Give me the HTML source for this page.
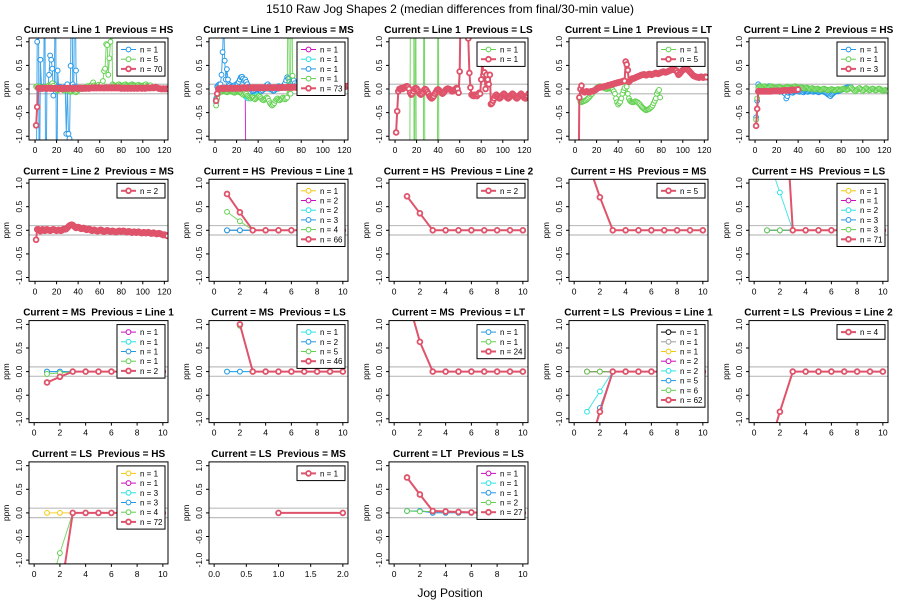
<!DOCTYPE html>
<html><head><meta charset="utf-8">
<style>
html,body{margin:0;padding:0;background:#fff;width:900px;height:600px;overflow:hidden;}
svg{display:block;font-family:"Liberation Sans",Arial,sans-serif;}
text{white-space:pre;}
</style></head>
<body>
<svg id="chart" width="900" height="600" viewBox="0 0 900 600">
<text x="450" y="13" text-anchor="middle" font-size="12" fill="#000">1510 Raw Jog Shapes 2 (median differences from final/30-min value)</text>
<text x="450" y="597" text-anchor="middle" font-size="12" fill="#000">Jog Position</text>
</svg>
<script>
// ---- colours ----
const RED="#DF536B",GRN="#61D04F",BLU="#2297E6",CYN="#28E2E5",MAG="#CD0BBC",YEL="#F5C710",BLK="#000000",GRY="#9E9E9E";
// ---- panel titles ----
const currents=["Line 1","Line 1","Line 1","Line 1","Line 2","Line 2","HS","HS","HS","HS","MS","MS","MS","LS","LS","LS","LS","LT"];
const previouses=["HS","MS","LS","LT","HS","MS","Line 1","Line 2","MS","LS","Line 1","LS","LT","Line 1","Line 2","HS","MS","LS"];
// ---- series values (x = start + index) ----
const p1_blue=[-3,1.0,3,-3,0.62,0.05,0.02,0.04,3,-3,0.05,0.03,0.3,0.71,0.62,0.43,-0.14,0.1,3,-3,0.39,0.02,0.05,0.03,0.01,0.02,0,0.05,-0.95,0.1,-0.95,-1.05,0.49,3,0.1,0.05,3,0.39,0,0.03];
const p1_green=[0.05,0.06,0.04,0.05,0.03,0.02,0.03,0.04,0.05,0.04,0.03,0.05,0.08,0.06,0.10,0.12,0.07,0.03,0.00,-0.02,-0.03,-0.01,0.00,0.02,0.01,-0.02,-0.03,-0.01,0.01,0.00,-0.03,-0.05,-0.06,-0.05,-0.03,-0.04,-0.06,-0.07,-0.05,-0.02,0.00,0.02,0.03,0.01,0.00,0.02,0.04,0.05,0.06,0.04,0.05,0.08,0.10,0.14,0.08,0.06,0.05,0.07,0.09,0.06,0.08,0.10,0.17,0.38,0.43,0.95,0.93,0.30,0.65,1.00,2.00,0.10,0.08,0.06,0.05,0.07,0.09,0.10,0.08,0.06,0.07,0.08,0.09,0.10,0.08,0.07,0.06,0.08,0.09,0.10,0.09,0.08,0.07,0.06,0.08,0.09,0.07,0.06,0.05,0.07,0.08,0.09,0.10,0.07,0.06,0.05,0.08];
const p1_red=[-0.77,-0.38,0.02,0.01,0.02,0.01,0.01,0.02,0.02,0.01,0.01,0.02,0.02,0.01,0.01,0.02,0.01,0.01,0.02,0.02,0.01,0.01,0.02,0.01,0.00,0.01,0.02,0.01,0.01,0.02,0.01,0.02,0.02,0.01,0.01,0.01,0.02,0.02,0.01,0.01,0.02,0.02,0.01,0.01,0.02,0.02,0.01,0.02,0.02,0.01,0.02,0.02,0.03,0.02,0.02,0.03,0.02,0.02,0.03,0.02,0.02,0.03,0.02,0.02,0.02,0.03,0.02,0.02,0.03,0.02,0.02,0.03,0.02,0.02,0.03,0.02,0.02,0.03,0.02,0.01,0.02,0.02,0.01,0.02,0.02,0.01,0.02,0.02,0.01,0.02,0.02,0.01,0.02,0.02,0.01,0.02,0.02,0.02,0.01,0.02,0.02,0.01,0.02,0.02,0.03,0.02,0.02,0.03,0.03,0.02,0.03,0.04,0.03,0.02,0.01,0.01,0.00,0.00,0.01,0.00,0.00,0.01,0.00,0.00];
const p2_magenta=[0.02,0.01,-3];
const p2_cyan=[-0.3,-0.15,-0.05,0,0.02,0.01,0,0.01,0.02,0.01,0,-0.01,0,0.01,0,-0.01,-0.02,-0.01,0,0.01,0,-0.02,-0.04,-0.06,-0.08,-0.1,-0.12,-0.15,-0.17,-0.19,-0.2,-0.18,-0.16,-0.15,-0.13,-0.12,-0.1,-0.08,-0.06,-0.05,-0.04,-0.03,-0.02,-0.02,-0.01,0,0.01,0.02,0.01,0,-0.01,0,0.01,0.02,0.03,0.02,0.01,0,0.01,0.02];
const p2_blue=[-0.2,0.05,0.08,0.1,0.1,0.3,0.78,1.5,0.6,0.2,0.42,0.2,0.1,0.08,0.05,0.03,0.05,0.08,0.06,0.1,0.12,0.15,0.2,0.25,0.26,0.22,0.18,0.2,0.15,0.1,0.05,0.02,0,-0.02,-0.05,-0.04,-0.02,0,0.02,0.01,-0.02,-0.04,-0.05,-0.03,0,0.03,0.05,0.08,0.1,0.06,0.03,0,-0.02,-0.04,-0.03,0,0.02,0.04,0.06,0.05,0.03,0.02,0.04,0.08,0.12,0.18,0.25,0.22,0.15,0.1,0.12,0.15,0.18,0.12,0.08];
const p2_green=[-0.35,-0.2,-0.1,-0.05,-0.05,-0.06,-0.05,-0.04,-0.05,-0.06,-0.07,-0.06,-0.05,-0.04,-0.05,-0.06,-0.07,-0.08,-0.07,-0.06,-0.05,-0.06,-0.07,-0.08,-0.1,-0.12,-0.1,-0.08,-0.1,-0.14,-0.16,-0.18,-0.2,-0.18,-0.17,-0.19,-0.22,-0.2,-0.18,-0.16,-0.15,-0.17,-0.2,-0.23,-0.24,-0.22,-0.2,-0.18,-0.2,-0.25,-0.3,-0.33,-0.35,-0.33,-0.3,-0.25,-0.22,-0.2,-0.22,-0.24,-0.22,-0.2,-0.18,-0.2,-0.22,-0.2,-0.18,3,-0.1,-0.1,3,0.28];
const p2_red=[-0.25,-0.1,0.0,0.01,0.01,0.02,0.01,0.01,0.02,0.01,0.02,0.01,0.01,0.02,0.02,0.01,0.02,0.02,0.01,0.02,0.02,0.02,0.01,0.02,0.02,0.02,0.03,0.02,0.02,0.03,0.02,0.02,0.03,0.02,0.03,0.03,0.02,0.03,0.03,0.02,0.03,0.03,0.03,0.02,0.03,0.03,0.03,0.02,0.03,0.03,0.03,0.03,0.02,0.03,0.03,0.03,0.03,0.03,0.02,0.03,0.03,0.03,0.04,0.03,0.03,0.03,0.04,0.03,0.03,0.04,0.03,0.03,0.04,0.04,0.03,0.04,0.04,0.03,0.04,0.04,0.04,0.03,0.04,0.04,0.04,0.04,0.03,0.04,0.04,0.04,0.04,0.04,0.05,0.04,0.04,0.04,0.05,0.04,0.04,0.05,0.04,0.05,0.05,0.04,0.05,0.05,0.04,0.05,0.05,0.05,0.04,0.05,0.05,0.05,0.05,0.05,0.06,0.05,0.05,0.06,0.05,0.06,0.06,0.07];
const p3_green=[-5,-0.02,5,5,5,-5,5,-5,-5,-5,-5,-5,-5,-5,5,-5,-5,-5,-5,-5,-5,-5,-5,-5,-5,-5,-5,5,-5];
const p3_red=[-0.92,-0.47,-0.05,0,0.01,0.02,0.0,0.02,0.04,0.05,0.06,0.04,0.0,-0.08,-0.12,-0.1,-0.05,0.0,0.02,0.01,-0.02,-0.06,-0.1,-0.12,-0.1,-0.06,-0.02,0,-0.02,-0.06,-0.1,-0.15,-0.18,-0.2,-0.18,-0.15,-0.1,-0.06,-0.02,-0.01,-0.03,-0.06,-0.08,-0.1,-0.08,-0.05,-0.02,0,0.01,0,-0.01,-0.03,-0.05,-0.04,-0.02,0,0.02,0,-0.08,0.37,2,2,2,2,2,2,2,1.07,0.34,0.03,-0.12,-0.14,-0.15,-0.12,-0.14,-0.15,-0.12,-0.08,-0.1,0.2,0.6,0.3,0.35,0,0.3,0.2,0.1,0.3,-0.32,-0.3,-0.25,-0.2,-0.15,-0.12,-0.15,-0.18,-0.2,-0.18,-0.15,-0.12,-0.1,-0.12,-0.15,-0.18,-0.2,-0.18,-0.15,-0.12,-0.1,-0.12,-0.15,-0.18,-0.2,-0.18,-0.15,-0.12,-0.1,-0.13,-0.16,-0.19,-0.2,-0.17,-0.14,-0.1];
const p4_green=[-0.2,-0.27,-0.28,-0.27,-0.26,-0.25,-0.24,-0.22,-0.2,-0.18,-0.15,-0.12,-0.1,-0.06,-0.03,0,0.02,0.04,0.05,0.06,0.05,0.04,0.03,0.02,0.01,0,0,0.01,0.02,0.01,0,-0.02,-0.05,-0.1,-0.2,-0.28,-0.33,-0.3,-0.27,-0.2,-0.1,-0.03,0.02,0.15,0.05,-0.1,-0.2,-0.25,-0.27,-0.28,-0.28,-0.27,-0.26,-0.27,-0.28,-0.3,-0.32,-0.35,-0.38,-0.4,-0.42,-0.44,-0.45,-0.44,-0.43,-0.42,-0.4,-0.38,-0.35,-0.3,-0.25,-0.2,-0.1,-0.05,-0.02,-0.18];
const p4_red=[null,null,-3,-0.18,0,0.07,-0.05,-0.06,-0.07,-0.06,-0.05,-0.06,-0.07,-0.06,-0.05,-0.05,-0.04,-0.03,-0.02,0,0.02,0.03,0.03,0.04,0.04,0.05,0.05,0.06,0.06,0.07,0.08,0.08,0.09,0.1,0.1,0.11,0.12,0.12,0.13,0.14,0.14,0.15,0.15,0.16,0.17,0.17,0.58,0.52,0.4,0.15,0.18,0.2,0.22,0.22,0.23,0.24,0.25,0.26,0.27,0.28,0.29,0.3,0.3,0.31,0.3,0.29,0.3,0.31,0.32,0.31,0.3,0.31,0.32,0.33,0.34,0.33,0.32,0.33,0.34,0.35,0.36,0.37,0.36,0.35,0.36,0.37,0.38,0.39,0.4,0.41,0.42,0.41,0.4,0.39,0.35,0.3,0.32,0.35,0.38,0.4,0.42,0.44,0.45,0.43,0.4,0.38,0.35,0.33,0.3,0.28,0.27,0.26,0.25,0.25,0.24,0.25,0.26,0.25,0.24,0.25,0.26,0.25];
const p5_blue=[-0.6,-0.25,0.1,0.06,0.04,0.03,0.02,0.03,0.05,0.04,0.03,0.05,0.06,0.04,0.02,0.01,0.0,-0.02,-0.03,-0.02,-0.04,-0.05,-0.06,-0.05,-0.04,-0.06,-0.08,-0.1,-0.2,-0.15,-0.08,-0.06,-0.05,-0.07,-0.08,-0.06,-0.05,-0.04,-0.03,-0.05,-0.06,-0.05,-0.04,-0.06,-0.07,-0.05,-0.04,-0.05,-0.06,-0.05,-0.04,-0.03,-0.05,-0.06,-0.05,-0.04,-0.05,-0.06,-0.07,-0.06,-0.05,-0.04,-0.05,-0.06,-0.07,-0.08,-0.1,-0.12,-0.13,-0.15,-0.12,-0.1,-0.08,-0.06,-0.05,-0.04,-0.05,-0.04,-0.03,-0.02,-0.01,0.0,0.01,0.02,0.03,0.04,0.03,0.02,0.04];
const p5_green=[-0.65,-0.2,0.03,0.05,0.06,0.05,0.04,0.05,0.06,0.05,0.04,0.03,0.04,0.05,0.06,0.05,0.04,0.03,0.02,0.03,0.04,0.05,0.04,0.03,0.02,0.01,0.02,0.03,0.04,0.05,0.04,0.03,0.02,0.03,0.04,0.05,0.06,0.05,0.04,0.03,0.02,0.03,0.04,0.03,0.02,0.01,0.02,0.03,0.02,0.01,0.0,0.01,0.02,0.01,0.0,-0.01,0.0,0.01,0.0,-0.01,-0.02,-0.01,0.0,0.01,0.0,-0.01,-0.02,-0.03,-0.02,-0.01,0.0,-0.01,-0.02,-0.03,-0.02,-0.01,0.0,-0.01,-0.02,-0.01,0.0,0.01,0.0,-0.01,-0.02,-0.01,0.0,0.02,0.03,0.01,-0.01,-0.03,-0.05,-0.03,-0.01,0.01,0.02,0.0,-0.02,-0.04,-0.02,0.0,0.02,0.01,-0.01,-0.03,-0.02,0.0,0.01,0.0,-0.02,-0.03,-0.02,0.0,0.01,0.0,-0.02,-0.03,-0.04,-0.03,-0.02,-0.03,-0.04,-0.05];
const p5_red=[-0.78,-0.42,-0.05,-0.05,-0.05,-0.05,-0.05,-0.05,-0.05,-0.05,-0.05,-0.05,-0.05,-0.05,-0.05,-0.04,-0.04,-0.04,-0.04,-0.04,-0.04,-0.04,-0.04,-0.04,-0.04,-0.03,-0.03,-0.03,-0.03,-0.03,-0.03,-0.03,-0.03,-0.02,-0.02,-0.02,-0.02,-0.02,-0.02,-0.01];
const p6_red=[-0.2,0.02,0.02,0.0,-0.02,0.0,0.02,0.01,-0.01,0.0,0.02,0.01,0.0,-0.01,0.0,0.01,0.02,0.01,0.0,-0.01,0.0,0.01,0.0,-0.01,0.0,0.02,0.03,0.02,0.03,0.05,0.08,0.1,0.11,0.12,0.11,0.09,0.07,0.05,0.06,0.07,0.06,0.04,0.03,0.04,0.05,0.04,0.02,0.01,0.02,0.03,0.02,0.0,-0.01,0.0,0.01,0.0,-0.01,-0.02,-0.01,0.0,0.01,0.0,-0.02,-0.03,-0.02,-0.01,0.0,-0.01,-0.02,-0.03,-0.02,-0.01,-0.02,-0.03,-0.04,-0.03,-0.02,-0.01,-0.02,-0.03,-0.02,-0.01,-0.02,-0.03,-0.04,-0.03,-0.02,-0.03,-0.04,-0.05,-0.04,-0.03,-0.04,-0.05,-0.04,-0.03,-0.04,-0.05,-0.06,-0.05,-0.04,-0.05,-0.06,-0.05,-0.04,-0.05,-0.06,-0.07,-0.06,-0.05,-0.06,-0.07,-0.08,-0.07,-0.06,-0.07,-0.08,-0.09,-0.1,-0.09,-0.1,-0.11,-0.12];
const p7_yel=[0,0,0,0,0,0,0,0,0,0];
const p7_mag=[0,0,0,0,0,0,0,0,0,0];
const p7_cyn=[0,0,0,0,0,0,0,0,0,0];
const p7_blu=[0,0,0,0,0,0,0,0,0,0];
const p7_grn=[0.39,0.19,0,0,0,0,0,0,0,0];
const p7_red=[0.77,0.38,0,0,0,0,0,0,0,0];
const p8_red=[0.72,0.36,0,0,0,0,0,0,0,0];
const p9_red=[1.5,0.7,0,0,0,0,0,0,0,0];
const p10_mag=[0,0,0,0,0,0,0,0,0,0];
const p10_cyn=[1.6,0.8,0,0,0,0,0,0,0,0];
const p10_red=[8,4.5,0,0,0,0,0,0,0,0];
const p11_mag=[0,0,0,0,0,0,0,0,0,0];
const p11_cyn=[0,0,0,0,0,0,0,0,0,0];
const p11_blu=[0,0,0,0,0,0,0,0,0,0];
const p11_grn=[-0.05,-0.03,0,0,0,0,0,0,0,0];
const p11_red=[-0.23,-0.11,0,0,0,0,0,0,0,0];
const p12_cyn=[0,0,0,0,0,0,0,0,0,0];
const p12_grn=[null,0.97,0,0,0,0,0,0,0,0];
const p12_red=[null,1.0,0,0,0,0,0,0,0,0];
const p13_red=[1.6,0.63,0,0,0,0,0,0,0,0];
const p14_mag=[0,0,0,0,0,0,0,0,0,0];
const p14_cyn=[-0.85,-0.42,0,0,0,0,0,0,0,0];
const p14_blu=[-1.9,-0.77,0,0,0,0,0,0,0,0];
const p14_red=[-1.77,-0.85,0,0,0,0,0,0,0,0];
const p15_red=[-1.77,-0.85,0,0,0,0,0,0,0,0];
const p16_yel=[0,0,0,0,0,0,0,0,0,0];
const p16_rest=[null,null,0,0,0,0,0,0,0,0];
const p16_grn=[-1.8,-0.85,0,0,0,0,0,0,0,0];
const p16_red=[-6,-1.8,0,0,0,0,0,0,0,0];
const p17_red=[0,0];
const p18_mag=[0.04,0.04,0.02,0.01,0.01,0.01,0,0,0,0];
const p18_cyn=[0.04,0.04,0.02,0.02,0.01,0.01,0,0,0,0];
const p18_blu=[0.04,0.04,0.0,0.0,0.0,0.0,0,0,0,0];
const p18_grn=[0.04,0.03,0.03,0.02,0.01,0.01,0,0,0,0];
const p18_red=[0.75,0.39,0.04,0.03,0.02,0.01,0,0,0,0];
// ---- tick labels ----
const yTicks=[-1.0,-0.5,0.0,0.5,1.0];
const xTicksLong=[0,20,40,60,80,100,120];
const xTicksShort=[0,2,4,6,8,10];
const xTicksTiny=[0.0,0.5,1.0,1.5,2.0];

const S=(c,n,y,x0)=>({c:c,n:n,y:y,x0:x0||1});
const panels=[
 {t:'long',s:[S(BLU,1,p1_blue),S(GRN,5,p1_green),S(RED,70,p1_red)]},
 {t:'long',s:[S(MAG,1,p2_magenta,27),S(CYN,1,p2_cyan),S(BLU,1,p2_blue),S(GRN,1,p2_green),S(RED,73,p2_red)]},
 {t:'long',s:[S(GRN,1,p3_green,13),S(RED,1,p3_red)]},
 {t:'long',s:[S(GRN,1,p4_green,4),S(RED,5,p4_red)]},
 {t:'long',s:[S(BLU,1,p5_blue),S(GRN,1,p5_green),S(RED,3,p5_red)]},
 {t:'long',s:[S(RED,2,p6_red)]},
 {t:'short',s:[S(YEL,1,p7_yel),S(MAG,2,p7_mag),S(CYN,2,p7_cyn),S(BLU,3,p7_blu),S(GRN,4,p7_grn),S(RED,66,p7_red)]},
 {t:'short',s:[S(RED,2,p8_red)]},
 {t:'short',s:[S(RED,5,p9_red)]},
 {t:'short',s:[S(YEL,1,p10_mag),S(MAG,1,p10_mag),S(CYN,2,p10_cyn),S(BLU,3,p10_mag),S(GRN,3,p10_mag),S(RED,71,p10_red)]},
 {t:'short',s:[S(MAG,1,p11_mag),S(CYN,1,p11_cyn),S(BLU,1,p11_blu),S(GRN,1,p11_grn),S(RED,2,p11_red)]},
 {t:'short',s:[S(CYN,1,p12_cyn),S(BLU,2,p12_cyn),S(GRN,5,p12_grn),S(RED,46,p12_red)]},
 {t:'short',s:[S(BLU,1,p13_red),S(GRN,1,p13_red),S(RED,24,p13_red)]},
 {t:'short',s:[S(BLK,1,p14_mag),S(GRY,1,p14_mag),S(YEL,1,p14_mag),S(MAG,2,p14_mag),S(CYN,2,p14_cyn),S(BLU,5,p14_blu),S(GRN,6,p14_mag),S(RED,62,p14_red)]},
 {t:'short',s:[S(RED,4,p15_red)]},
 {t:'short',s:[S(YEL,1,p16_yel),S(MAG,1,p16_rest),S(CYN,3,p16_rest),S(BLU,3,p16_rest),S(GRN,4,p16_grn),S(RED,72,p16_red)]},
 {t:'tiny',s:[S(RED,1,p17_red)]},
 {t:'short',s:[S(MAG,1,p18_mag),S(CYN,1,p18_cyn),S(BLU,1,p18_blu),S(GRN,2,p18_grn),S(RED,27,p18_red)]}
];
const NS="http://www.w3.org/2000/svg";
const svg=document.getElementById('chart');
function mk(tag,attrs,parent){const e=document.createElementNS(NS,tag);for(const k in attrs)e.setAttribute(k,attrs[k]);(parent||svg).appendChild(e);return e;}
const XR={long:[-5.6,123.4],short:[-0.4,10.4],tiny:[-0.08,2.08]};
const XT={long:xTicksLong,short:xTicksShort,tiny:xTicksTiny};
panels.forEach((p,i)=>{
  const col=i%5,row=Math.floor(i/5);
  const L=29+180*col,R=L+139,T=38+141.3*row,B=T+102;
  const [x0,x1]=XR[p.t];
  const sx=v=>L+(v-x0)/(x1-x0)*(R-L);
  const sy=v=>B-(v+1.08)/2.16*(B-T);
  const g=mk('g',{});
  
  
  const title=mk('text',{x:(L+R)/2,y:T-5,'text-anchor':'middle','font-size':'10','font-weight':'bold'},g);
  title.textContent='Current = '+currents[i]+'  Previous = '+previouses[i];
  
  
  const cp=mk('clipPath',{id:'cp'+i},g);mk('rect',{x:L,y:T,width:R-L,height:B-T},cp);
  [0.1,-0.1].forEach(v=>{const l=mk('line',{x1:L,x2:R,y1:sy(v),y2:sy(v),stroke:'#bebebe','stroke-width':1.2},g);
    });
  const dg=mk('g',{'clip-path':'url(#cp'+i+')'},g);
  p.s.forEach(s=>{
    const main=s.c===RED;
    const pts=[];
    s.y.forEach((v,k)=>{if(v!==null)pts.push([sx(s.x0+k),sy(v)]);});
    const pl=mk('polyline',{points:pts.map(q=>q[0].toFixed(1)+','+q[1].toFixed(1)).join(' '),fill:'none',stroke:s.c,'stroke-width':main?2:1,'stroke-opacity':main?1:0.85},dg);
    
    
    pts.forEach(q=>{const c=mk('circle',{cx:q[0],cy:q[1],r:2.4,fill:'#fff',stroke:s.c,'stroke-width':main?1.8:1},dg);
      
      });
  });
  const box=mk('rect',{x:L,y:T,width:R-L,height:B-T,fill:'none',stroke:'#000','stroke-width':1},g);
  
  yTicks.forEach(v=>{const y=sy(v);mk('line',{x1:L-3,x2:L,y1:y,y2:y,stroke:'#000'},g);
    const t=mk('text',{x:L-7,y:y,'font-size':'8.5','text-anchor':'middle',transform:'rotate(-90 '+(L-7)+' '+y+')'},g);
    t.textContent=v.toFixed(1);
    });
  const yl=mk('text',{x:L-20,y:(T+B)/2,'font-size':'8.5','text-anchor':'middle',transform:'rotate(-90 '+(L-20)+' '+(T+B)/2+')'},g);
  yl.textContent='ppm';
  XT[p.t].forEach(v=>{const x=sx(v);mk('line',{x1:x,x2:x,y1:B,y2:B+3,stroke:'#000'},g);
    const t=mk('text',{x:x,y:B+13,'font-size':'8.5','text-anchor':'middle'},g);
    t.textContent=p.t==='tiny'?v.toFixed(1):String(v);
    });
  // legend
  const n=p.s.length,lw=48,lh=n*9.7+5,lx=R-3-lw,ly=T+4;
  const lg=mk('g',{},g);
  
  mk('rect',{x:lx,y:ly,width:lw,height:lh,fill:'#fff',stroke:'#000','stroke-width':1},lg);
  p.s.forEach((s,k)=>{const y=ly+7.5+k*9.7;const main=s.c===RED;
    const e=mk('g',{},lg);
    
    mk('line',{x1:lx+4,x2:lx+19,y1:y,y2:y,stroke:s.c,'stroke-width':main?2:1},e);
    mk('circle',{cx:lx+11.5,cy:y,r:2.4,fill:'#fff',stroke:s.c,'stroke-width':main?1.8:1},e);
    const t=mk('text',{x:lx+23,y:y+3,'font-size':'8'},e);t.textContent='n = '+s.n;});
});
</script>
</body></html>
